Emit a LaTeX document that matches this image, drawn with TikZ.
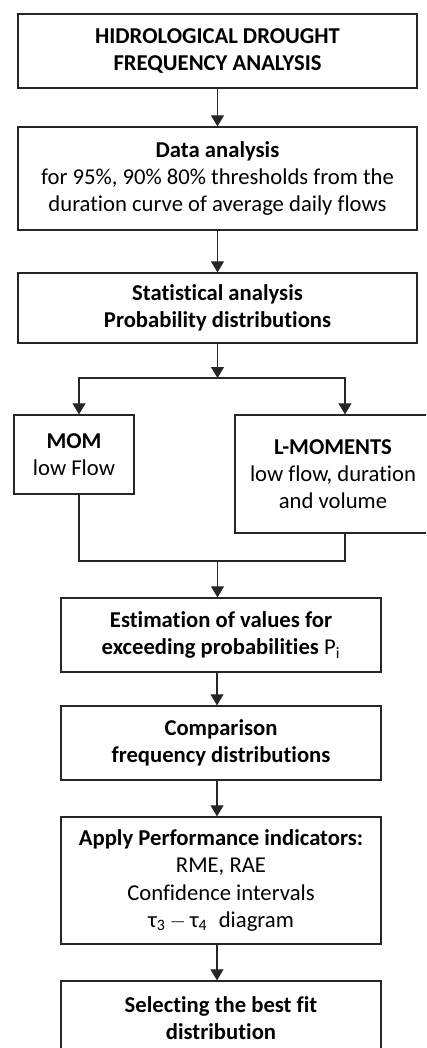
\documentclass[tikz,border=0pt]{standalone}
\usepackage{fontspec}
\setmainfont{Carlito}[Ligatures={NoCommon}]
\usetikzlibrary{arrows.meta,calc,positioning}
\tikzset{box/.style={draw=black!85,line width=0.75pt,align=center,inner sep=0pt},
  widebox/.style={box,minimum width=7.98cm},
  midbox/.style={box,minimum width=6.4cm},
  conn/.style={line width=0.6pt,draw=black!85}}

\begin{document}
\begin{tikzpicture}[x=0.02cm,y=-0.02cm,>={Triangle[width=0.26cm,length=0.22cm]},font=\fontsize{12.9}{15.4}\selectfont]
\useasboundingbox (0,0) rectangle (426,1048);
\clip (0,0) rectangle (426,1048);
% --- top column
\node[widebox,minimum height=1.48cm] (title) at (217.5,51) {\textbf{HIDROLOGICAL DROUGHT}\\\textbf{FREQUENCY ANALYSIS}};
\node[widebox,minimum height=2.06cm] (data) at (217.5,178.5) {\textbf{Data analysis}\\for 95\%, 90\% 80\% thresholds from the\\duration curve of average daily flows};
\node[widebox,minimum height=1.40cm] (stat) at (217.5,308) {\textbf{Statistical analysis}\\\textbf{Probability distributions}};
% --- the two methods
\node[box,minimum width=2.4cm,minimum height=1.58cm] (mom) at (74,454.5) {\textbf{MOM}\\low Flow};
\node[box,minimum width=3.92cm,minimum height=2.36cm] (lmom) at (333,474) {\textbf{L-MOMENTS}\\low flow, duration\\and volume};
% --- lower column
\node[midbox,minimum height=1.48cm] (est) at (221,635) {\textbf{Estimation of values for}\\\textbf{exceeding probabilities} P\textsubscript{i}};
\node[midbox,minimum height=1.48cm] (cmp) at (221,743) {\textbf{Comparison}\\\textbf{frequency distributions}};
\node[midbox,minimum height=2.54cm] (perf) at (221,880.5) {\textbf{Apply Performance indicators:}\\RME, RAE\\Confidence intervals\\τ\textsubscript{3}\,$-$\,τ\textsubscript{4}\enspace diagram};
\node[midbox,minimum height=1.48cm] (best) at (221,1018) {\textbf{Selecting the best fit}\\\textbf{distribution}};
% --- connectors
\coordinate (split) at (217.5,378);
\coordinate (join) at (217.5,561);
\draw[conn,->] (title.south) -- (data.north);
\draw[conn,->] (data.south) -- (stat.north);
\draw[conn,->] (stat.south) -- (split);
\draw[conn,->] (split) -| ([xshift=0.1cm]mom.north);
\draw[conn,->] (split) -| ([xshift=0.24cm]lmom.north);
\draw[conn] ([xshift=0.1cm]mom.south) |- (join) -| ([xshift=0.24cm]lmom.south);
\draw[conn,->] (join) -- (join |- est.north);
\draw[conn,->] ([xshift=-0.08cm]est.south) -- ([xshift=-0.08cm]cmp.north);
\draw[conn,->] ([xshift=-0.08cm]cmp.south) -- ([xshift=-0.08cm]perf.north);
\draw[conn,->] ([xshift=-0.08cm]perf.south) -- ([xshift=-0.08cm]best.north);
\end{tikzpicture}
\end{document}
